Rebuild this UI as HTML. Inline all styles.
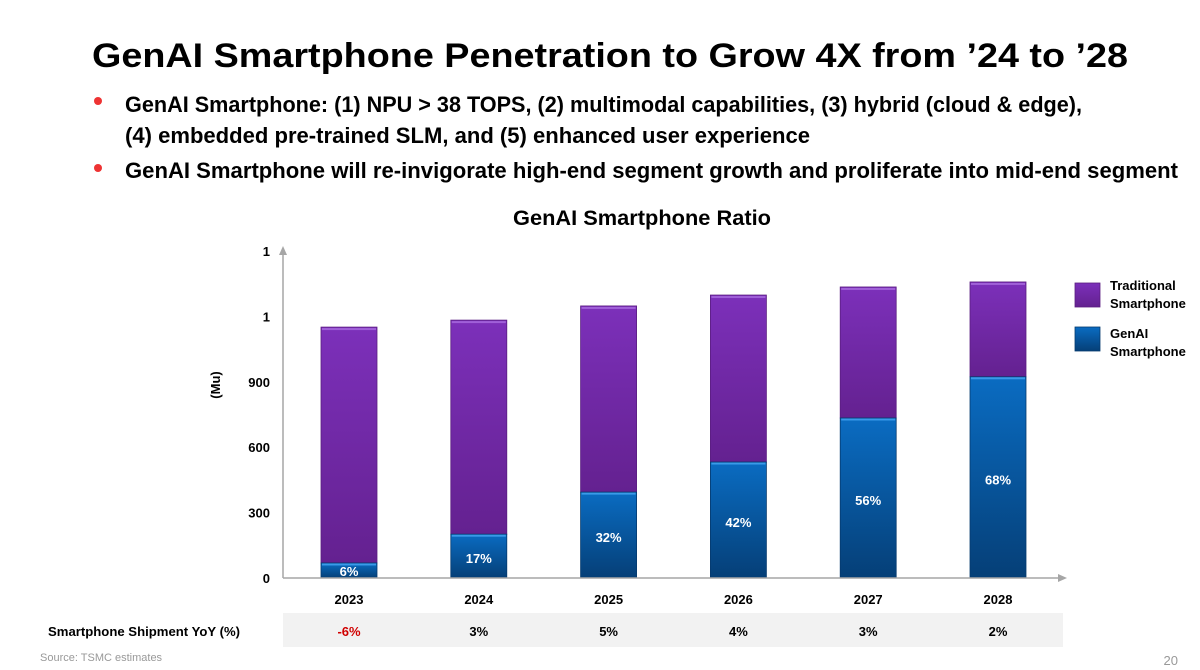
<!DOCTYPE html>
<html><head><meta charset="utf-8"><style>
html,body{margin:0;padding:0;background:#fff;}
svg{display:block;font-family:"Liberation Sans",sans-serif;}
</style></head><body>
<svg id="chart" width="1200" height="670" viewBox="0 0 1200 670" xmlns="http://www.w3.org/2000/svg">
<defs>
<linearGradient id="gPurple" x1="0" y1="0" x2="0" y2="1"><stop offset="0" stop-color="#7c30ba"/><stop offset="1" stop-color="#642190"/></linearGradient>
<linearGradient id="gBlue" x1="0" y1="0" x2="0" y2="1"><stop offset="0" stop-color="#0a6cc2"/><stop offset="1" stop-color="#053f77"/></linearGradient>
</defs>
<text x="92" y="67" font-size="34" font-weight="bold" fill="#000" textLength="1036" lengthAdjust="spacingAndGlyphs">GenAI Smartphone Penetration to Grow 4X from ’24 to ’28</text>
<circle cx="98" cy="101" r="4" fill="#ee3333"/>
<text x="125" y="112" font-size="22" font-weight="bold" textLength="957" lengthAdjust="spacingAndGlyphs">GenAI Smartphone: (1) NPU &gt; 38 TOPS, (2) multimodal capabilities, (3) hybrid (cloud &amp; edge),</text>
<text x="125" y="143" font-size="22" font-weight="bold" textLength="685" lengthAdjust="spacingAndGlyphs">(4) embedded pre-trained SLM, and (5) enhanced user experience</text>
<circle cx="98" cy="168" r="4" fill="#ee3333"/>
<text x="125" y="178" font-size="22" font-weight="bold" textLength="1053" lengthAdjust="spacingAndGlyphs">GenAI Smartphone will re-invigorate high-end segment growth and proliferate into mid-end segment</text>
<text x="642" y="225" font-size="21" font-weight="bold" text-anchor="middle" textLength="258" lengthAdjust="spacingAndGlyphs">GenAI Smartphone Ratio</text>
<text transform="translate(220,385) rotate(-90)" font-size="13" font-weight="bold" text-anchor="middle">(Mu)</text>
<rect x="283" y="613" width="780" height="34" fill="#f2f2f2"/>
<text x="48" y="636" font-size="13" font-weight="bold" textLength="192" lengthAdjust="spacingAndGlyphs">Smartphone Shipment YoY (%)</text>
<text x="40" y="661" font-size="11" fill="#999">Source: TSMC estimates</text>
<text x="1178" y="665" font-size="13" fill="#999" text-anchor="end">20</text>
<g id="plot"></g>
<g>
<rect x="1075" y="283" width="25" height="24" fill="url(#gPurple)" stroke="#5a1d80" stroke-width="0.8"/>
<text font-size="13" font-weight="bold"><tspan x="1110" y="290">Traditional</tspan><tspan x="1110" y="308">Smartphone</tspan></text>
<rect x="1075" y="327" width="25" height="24" fill="url(#gBlue)" stroke="#053a6e" stroke-width="0.8"/>
<text font-size="13" font-weight="bold"><tspan x="1110" y="338">GenAI</tspan><tspan x="1110" y="356">Smartphone</tspan></text>
</g>
</svg>
<script>
const years = ['2023','2024','2025','2026','2027','2028'];
const totalShipments = [1151, 1183, 1248, 1298, 1335, 1358];
const genaiShipments = [69, 201, 394, 532, 734, 923];
const genaiLabels = ['6%','17%','32%','42%','56%','68%'];
const yoyLabels = ['-6%','3%','5%','4%','3%','2%'];
const yTickValues = [0, 300, 600, 900, 1200, 1500];
const yTickLabels = ['0','300','600','900','1','1'];

const NS = 'http://www.w3.org/2000/svg';
const plot = document.getElementById('plot');
const y0 = 578, yMax = 251, vMax = 1500;
const x0 = 349, step = 129.8, bw = 56;
function yScale(v){ return y0 - (v / vMax) * (y0 - yMax); }
function xScale(i){ return x0 + i * step; }
function mk(tag, attrs){ const e = document.createElementNS(NS, tag); for (const k in attrs) e.setAttribute(k, attrs[k]); plot.appendChild(e); return e; }

yTickValues.forEach((v, i) => {
  const t = mk('text', {x: 270, y: yScale(v) + 5, 'font-size': 13, 'font-weight': 'bold', 'text-anchor': 'end'});
  
  
  t.textContent = yTickLabels[i];
});

years.forEach((yr, i) => {
  const cx = xScale(i), x = cx - bw / 2;
  const yt = yScale(totalShipments[i]), yg = yScale(genaiShipments[i]);
  const p = mk('rect', {x: x, y: yt, width: bw, height: yg - yt, fill: 'url(#gPurple)', stroke: '#5a1d80', 'stroke-width': 0.8});
  
  
  const ps = mk('rect', {x: x + 1, y: yt + 1, width: bw - 2, height: 2, fill: '#a060d8'});
  
  
  const b = mk('rect', {x: x, y: yg, width: bw, height: y0 - yg, fill: 'url(#gBlue)', stroke: '#053a6e', 'stroke-width': 0.8});
  
  
  const bs = mk('rect', {x: x + 1, y: yg + 0.5, width: bw - 2, height: 2, fill: '#3a9ae8'});
  
  
  const ly = Math.min((yg + y0) / 2 + 7, y0 - 3);
  const lt = mk('text', {x: cx, y: i === 0 ? 576 : ly, 'font-size': 13, 'font-weight': 'bold', fill: '#fff', 'text-anchor': 'middle'});
  
  
  lt.textContent = genaiLabels[i];
  const xl = mk('text', {x: cx, y: 604, 'font-size': 13, 'font-weight': 'bold', 'text-anchor': 'middle'});
  
  
  xl.textContent = yr;
  const yl = mk('text', {x: cx, y: 636, 'font-size': 13, 'font-weight': 'bold', 'text-anchor': 'middle', fill: yoyLabels[i].startsWith('-') ? '#d00000' : '#000'});
  
  
  yl.textContent = yoyLabels[i];
});

const ya = mk('path', {d: 'M283 578 L283 250', stroke: '#a6a6a6', 'stroke-width': 1.5, fill: 'none'});


const yh = mk('path', {d: 'M279 255 L283 246 L287 255 Z', fill: '#a6a6a6'});


const xa = mk('path', {d: 'M283 578 L1062 578', stroke: '#a6a6a6', 'stroke-width': 1.5, fill: 'none'});


const xh = mk('path', {d: 'M1058 574 L1067 578 L1058 582 Z', fill: '#a6a6a6'});


</script>
</body></html>
